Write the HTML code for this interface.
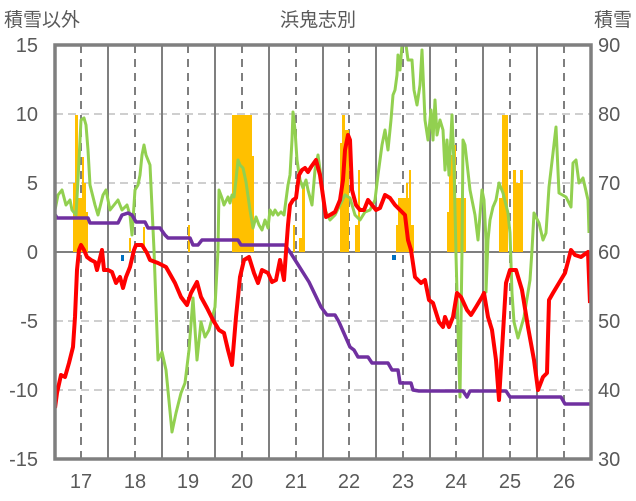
<!DOCTYPE html>
<html><head><meta charset="utf-8"><style>
html,body{margin:0;padding:0;background:#fff;width:636px;height:501px;overflow:hidden}
text{font-family:"Liberation Sans","Noto Sans CJK JP",sans-serif;fill:#595959}
</style></head><body>
<svg width="636" height="501" viewBox="0 0 636 501" xmlns="http://www.w3.org/2000/svg">
<defs><clipPath id="c"><rect x="55" y="45" width="536" height="414"/></clipPath></defs>
<g stroke="#bfbfbf" stroke-width="1.5" stroke-dasharray="8,5">
<line x1="55" y1="114" x2="591" y2="114"/><line x1="55" y1="183" x2="591" y2="183"/>
<line x1="55" y1="321" x2="591" y2="321"/><line x1="55" y1="390" x2="591" y2="390"/>
</g>
<g stroke="#7f7f7f" stroke-width="2" stroke-dasharray="8,6">
<line x1="81" y1="45" x2="81" y2="459"/><line x1="135" y1="45" x2="135" y2="459"/><line x1="188" y1="45" x2="188" y2="459"/><line x1="242" y1="45" x2="242" y2="459"/><line x1="296" y1="45" x2="296" y2="459"/><line x1="349" y1="45" x2="349" y2="459"/><line x1="403" y1="45" x2="403" y2="459"/><line x1="456" y1="45" x2="456" y2="459"/><line x1="510" y1="45" x2="510" y2="459"/><line x1="564" y1="45" x2="564" y2="459"/>
</g>
<g stroke="#7f7f7f" stroke-width="2">
<line x1="108" y1="45" x2="108" y2="459"/><line x1="162" y1="45" x2="162" y2="459"/><line x1="215" y1="45" x2="215" y2="459"/><line x1="269" y1="45" x2="269" y2="459"/><line x1="323" y1="45" x2="323" y2="459"/><line x1="376" y1="45" x2="376" y2="459"/><line x1="430" y1="45" x2="430" y2="459"/><line x1="483" y1="45" x2="483" y2="459"/><line x1="537" y1="45" x2="537" y2="459"/>
<line x1="55" y1="252" x2="591" y2="252"/>
</g>
<g fill="#ffc000" clip-path="url(#c)">
<rect x="73" y="183" width="5" height="69"/><rect x="75" y="115" width="3" height="137"/><rect x="78" y="198" width="4" height="54"/><rect x="82" y="157" width="2" height="95"/><rect x="83" y="183" width="3" height="69"/><rect x="86" y="212" width="2" height="40"/>
<rect x="129" y="238" width="2" height="14"/><rect x="143" y="227" width="2" height="25"/><rect x="188" y="225" width="2" height="27"/>
<rect x="232" y="115" width="20" height="137"/><rect x="252" y="156" width="2" height="96"/>
<rect x="293" y="225" width="2" height="27"/><rect x="299" y="238" width="4" height="14"/><rect x="302" y="187" width="3" height="65"/>
<rect x="340" y="217" width="9" height="35"/><rect x="340" y="143" width="3" height="109"/><rect x="342" y="115" width="3" height="137"/><rect x="345" y="130" width="4" height="122"/>
<rect x="355" y="225" width="4" height="27"/><rect x="358" y="170" width="2" height="82"/>
<rect x="396" y="225" width="3" height="27"/><rect x="398" y="198" width="11" height="54"/><rect x="406" y="183" width="2" height="69"/><rect x="409" y="170" width="2" height="82"/><rect x="411" y="225" width="3" height="27"/>
<rect x="447" y="212" width="3" height="40"/><rect x="449" y="155" width="4" height="97"/><rect x="453" y="145" width="3" height="107"/><rect x="456" y="198" width="10" height="54"/>
<rect x="499" y="198" width="9" height="54"/><rect x="502" y="115" width="6" height="137"/><rect x="513" y="170" width="3" height="82"/><rect x="514" y="225" width="6" height="27"/><rect x="516" y="183" width="4" height="69"/><rect x="520" y="170" width="3" height="82"/>
</g>
<g fill="#0070c0"><rect x="121" y="255" width="3" height="6"/><rect x="392" y="255" width="4" height="5"/></g>
<g clip-path="url(#c)" fill="none" stroke-linejoin="round">
<polyline stroke="#92d050" stroke-width="3" points="55,210 58,195 62,190 66,205 70,200 72,210 76,215 78,180 81,120 84,118 86,125 88,150 90,185 95,205 98,215 103,195 106,190 110,210 114,205 118,200 122,210 127,205 130,215 132,235 135,190 138,185 140,175 142,155 144,145 146,155 150,165 154,250 158,360 162,352 166,370 172,432 176,413 181,393 185,383 189,350 193,298 197,360 201,322 205,337 209,330 215,307 218,250 219,190 222,198 224,205 228,197 230,203 232,195 234,197 236,180 238,160 240,165 243,168 246,182 250,210 253,228 256,217 259,225 262,230 265,220 268,228 270,210 273,215 275,210 278,215 281,212 284,215 288,185 290,175 292,140 293,112 295,130 297,160 300,180 303,188 306,180 308,190 312,205 315,170 318,155 320,170 325,210 330,220 335,215 340,205 345,195 350,198 355,215 360,220 365,212 370,210 375,200 378,175 382,145 385,130 388,150 391,120 393,95 395,90 397,75 398,55 400,70 402,45 406,45 408,60 412,60 414,90 417,105 420,85 422,50 425,120 428,140 431,110 433,140 435,100 437,135 440,120 443,130 445,170 447,140 449,175 452,115 454,165 456,255 458,330 460,397 462,250 463,140 465,145 470,190 475,215 478,240 482,190 484,200 486,240 486,292 488,240 490,220 493,207 496,200 499,183 503,193 508,213 510,233 512,293 514,322 518,338 524,317 530,280 532,250 534,213 539,223 543,240 546,233 549,187 553,153 556,127 559,193 566,197 571,207 573,163 576,160 579,183 583,178 588,200 589,233"/>
<polyline stroke="#7030a0" stroke-width="3.5" points="53,211 57,218 88,218 90,223 118,223 122,215 128,213 132,215 136,222 145,222 148,228 160,228 165,235 168,238 190,238 193,245 198,245 202,240 238,240 241,245 285,245 290,252 297,263 309,282 321,307 327,315 335,315 339,322 350,347 354,350 358,357 368,357 372,363 388,363 392,370 398,370 400,383 411,383 413,390 419,391 463,391 467,397 470,391 506,391 510,397 561,397 565,404 591,404"/>
<polyline stroke="#ff0000" stroke-width="4" points="55,408 57,393 61,375 65,377 69,363 73,347 75,317 77,270 79,250 81,245 84,250 87,257 91,260 95,262 97,270 100,258 102,250 104,270 108,270 112,272 116,283 120,277 123,288 126,277 130,267 134,250 136,245 142,245 147,253 150,260 158,263 166,267 175,283 181,297 187,305 191,293 197,282 201,297 207,308 213,320 219,330 224,333 228,350 232,365 236,317 240,277 244,260 249,257 254,273 258,283 262,270 268,273 272,282 276,280 280,260 284,280 286,252 288,225 290,205 293,200 296,198 299,175 302,170 305,168 308,172 311,167 316,160 320,175 326,217 330,215 335,212 340,200 343,180 345,150 348,135 350,140 352,190 356,205 360,210 364,210 368,200 372,205 376,210 380,208 385,195 390,198 395,205 400,210 405,215 408,240 411,250 415,277 421,283 425,280 429,300 433,303 439,322 443,327 445,317 449,327 453,317 457,293 461,297 467,310 471,315 476,307 482,297 484,293 488,317 492,330 496,360 499,400 502,350 506,283 510,270 516,270 522,290 528,327 534,360 538,390 543,377 547,373 549,300 553,293 559,283 565,273 571,250 575,255 581,257 585,254 588,252 590,303"/>
</g>
<rect x="55" y="45" width="536" height="414" fill="none" stroke="#7f7f7f" stroke-width="3.5"/>
<g font-size="20" text-anchor="end">
<text x="38" y="52">15</text><text x="38" y="121">10</text><text x="38" y="190">5</text><text x="38" y="259">0</text><text x="38" y="328">-5</text><text x="38" y="397">-10</text><text x="38" y="466">-15</text>
</g>
<g font-size="20" text-anchor="start">
<text x="598" y="52">90</text><text x="598" y="121">80</text><text x="598" y="190">70</text><text x="598" y="259">60</text><text x="598" y="328">50</text><text x="598" y="397">40</text><text x="598" y="466">30</text>
</g>
<g font-size="20" text-anchor="middle">
<text x="81" y="488">17</text><text x="135" y="488">18</text><text x="188" y="488">19</text><text x="242" y="488">20</text><text x="296" y="488">21</text><text x="349" y="488">22</text><text x="403" y="488">23</text><text x="456" y="488">24</text><text x="510" y="488">25</text><text x="564" y="488">26</text>
</g>
<text x="4" y="26" font-size="19">積雪以外</text>
<text x="318" y="26" font-size="19" text-anchor="middle">浜鬼志別</text>
<text x="632" y="26" font-size="19" text-anchor="end">積雪</text>
</svg>
</body></html>
